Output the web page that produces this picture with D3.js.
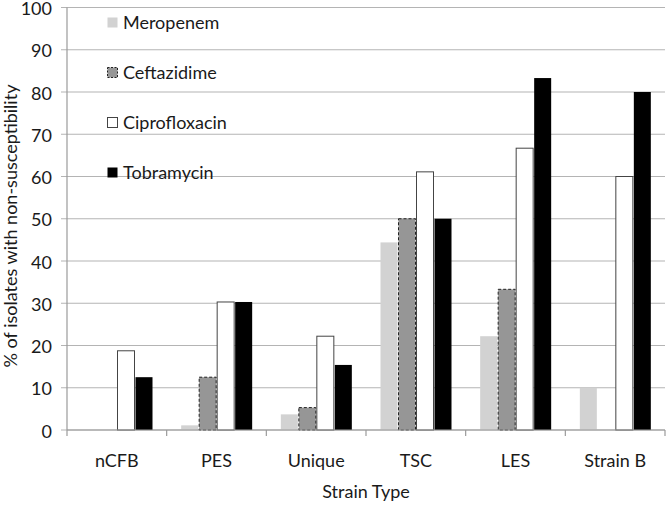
<!DOCTYPE html>
<html>
<head>
<meta charset="utf-8">
<script src="https://cdn.jsdelivr.net/npm/d3@7/dist/d3.min.js"></script>
<style>
  html, body { margin: 0; padding: 0; background: #fff; }
  svg { display: block; }
  text { font-family: Lato, "Open Sans", sans-serif; fill: #1a1a1a; }
</style>
</head>
<body>
<svg id="chart" width="666" height="505"></svg>
<script>
const categories = ["nCFB", "PES", "Unique", "TSC", "LES", "Strain B"];
const seriesNames = ["Meropenem", "Ceftazidime", "Ciprofloxacin", "Tobramycin"];
const meropenem     = [0, 1.1, 3.7, 44.4, 22.2, 10];
const ceftazidime   = [0, 12.5, 5.3, 50, 33.3, 0];
const ciprofloxacin = [18.75, 30.3, 22.2, 61.1, 66.7, 60];
const tobramycin    = [12.5, 30.3, 15.4, 50, 83.3, 80];
const yTicks = [0, 10, 20, 30, 40, 50, 60, 70, 80, 90, 100];
const xTitle = "Strain Type";
const yTitle = "% of isolates with non-susceptibility";

const seriesValues = [meropenem, ceftazidime, ciprofloxacin, tobramycin];
const styles = [
  { fill: "#d2d2d2", stroke: "none", dash: null },
  { fill: "#969696", stroke: "#222", dash: "3,2" },
  { fill: "#ffffff", stroke: "#444", dash: null },
  { fill: "#000000", stroke: "none", dash: null }
];

const svg = d3.select("#chart");
const pLeft = 67, pRight = 665, pTop = 7.5, pBottom = 430;

const x0 = d3.scaleBand().domain(categories).range([pLeft, pRight]).padding(0);
const x1 = d3.scaleBand().domain(seriesNames).range([14, 86]).padding(0);
const y = d3.scaleLinear().domain([0, 100]).range([pBottom, pTop]);

// gridlines
svg.append("g").selectAll("line").data(yTicks).join("line")
  .attr("x1", pLeft - 6).attr("x2", pRight)
  .attr("y1", d => y(d)).attr("y2", d => y(d))
  .attr("stroke", "#b4b4b4").attr("stroke-width", 1.2);

// y tick labels
svg.append("g").selectAll("text").data(yTicks).join("text")
  .attr("x", 52).attr("y", d => y(d)).attr("dy", "0.42em")
  .attr("text-anchor", "end").attr("font-size", 18)
  .text(d => d);

// bars
const gBars = svg.append("g");
seriesNames.forEach((s, si) => {
  gBars.append("g").selectAll("rect").data(categories).join("rect")
    .attr("x", c => x0(c) + x1(s) + 0.5)
    .attr("width", x1.bandwidth() - 1)
    .attr("y", (c, i) => y(seriesValues[si][i]))
    .attr("height", (c, i) => pBottom - y(seriesValues[si][i]))
    .attr("fill", styles[si].fill)
    .attr("stroke", (c, i) => seriesValues[si][i] > 0 ? styles[si].stroke : "none")
    .attr("stroke-width", 1)
    .attr("stroke-dasharray", styles[si].dash);
});

// axes lines
svg.append("line").attr("x1", pLeft).attr("x2", pLeft).attr("y1", pTop).attr("y2", pBottom)
  .attr("stroke", "#9a9a9a").attr("stroke-width", 1.2);
svg.append("line").attr("x1", pLeft).attr("x2", pRight).attr("y1", pBottom).attr("y2", pBottom)
  .attr("stroke", "#9a9a9a").attr("stroke-width", 1.2);
const bounds = categories.map(c => x0(c)).concat([pRight]);
svg.append("g").selectAll("line").data(bounds).join("line")
  .attr("x1", d => d).attr("x2", d => d).attr("y1", pBottom).attr("y2", pBottom + 6)
  .attr("stroke", "#9a9a9a").attr("stroke-width", 1.2);

// x tick labels
svg.append("g").selectAll("text").data(categories).join("text")
  .attr("x", c => x0(c) + x0.bandwidth() / 2).attr("y", 467)
  .attr("text-anchor", "middle").attr("font-size", 18)
  .text(c => c);

// axis titles
svg.append("text").attr("x", (pLeft + pRight) / 2).attr("y", 498)
  .attr("text-anchor", "middle").attr("font-size", 18).text(xTitle);
svg.append("text").attr("transform", "translate(17,226) rotate(-90)")
  .attr("text-anchor", "middle").attr("font-size", 18).text(yTitle);

// legend
const lg = svg.append("g");
seriesNames.forEach((s, si) => {
  const cy = 22.5 + si * 50;
  lg.append("rect").attr("x", 107.5).attr("y", cy - 5).attr("width", 10).attr("height", 10)
    .attr("fill", styles[si].fill)
    .attr("stroke", styles[si].stroke).attr("stroke-width", 1)
    .attr("stroke-dasharray", styles[si].dash ? "2,1.5" : null);
  lg.append("text").attr("x", 123).attr("y", cy + 6)
    .attr("font-size", 18).text(s);
});
</script>
</body>
</html>
